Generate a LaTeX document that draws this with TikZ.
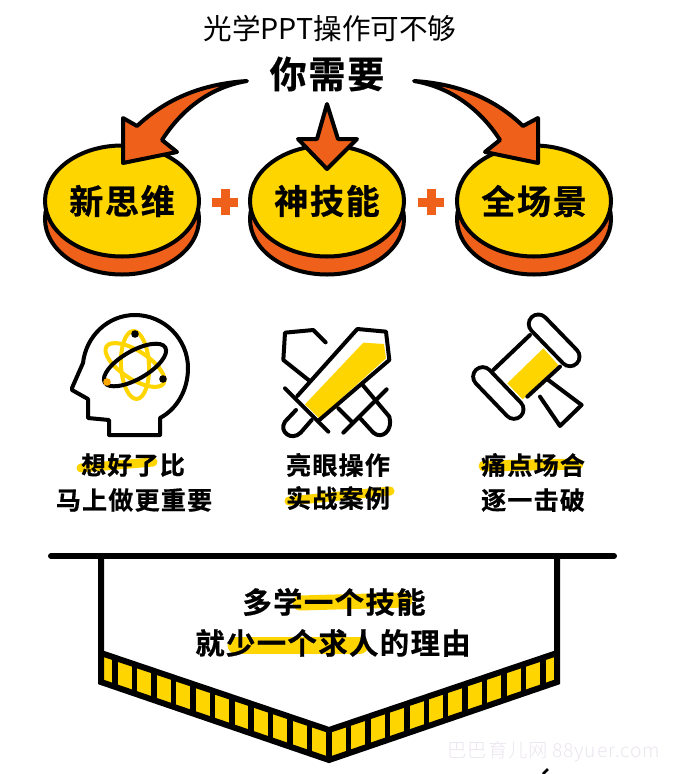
\documentclass[tikz,border=0pt]{standalone}
\usepackage{fontspec}
\usetikzlibrary{shapes.geometric}
\setmainfont{Noto Sans CJK SC}
\newfontfamily\cjkthin[LetterSpace=0]{Noto Sans CJK SC}
\newfontfamily\cjkbold[LetterSpace=5,FakeBold=0.7]{Noto Sans CJK SC Bold}
\newfontfamily\cjkmark[LetterSpace=4]{Noto Sans CJK SC Light}
\definecolor{gold}{HTML}{FFD500}
\definecolor{burnt}{HTML}{EF611A}
\definecolor{faint}{HTML}{EBE5EE}
\tikzset{
  disc/.style={ellipse,draw=black,line width=4pt,fill=gold,minimum width=154pt,minimum height=111pt,inner sep=0pt,font=\cjkbold\fontsize{34}{34}\selectfont},
  discbase/.style={disc,fill=burnt},
  bigarrow/.style={draw=black,fill=burnt,line width=4pt,line join=round},
  plusbar/.style={draw=burnt,line width=9pt},
  icon/.style={line width=4pt,line cap=round,line join=round},
  brush/.style={draw=gold,line cap=round},
  caption/.style={font=\cjkbold\fontsize{25}{25}\selectfont,inner sep=0pt},
  slogan/.style={font=\cjkbold\fontsize{29.3}{29.3}\selectfont,inner sep=0pt},
}
\begin{document}
\begin{tikzpicture}[x=1pt,y=-1pt]
\useasboundingbox (0,0) rectangle (673,774);
% header
\node[font=\cjkthin\fontsize{28.6}{28.6}\selectfont,inner sep=0pt] (title) at (330,29) {光学PPT操作可不够};
\node[font=\cjkbold\fontsize{37}{37}\selectfont,inner sep=0pt] (need) at (327,74) {你需要};
% discs
\foreach \cx/\name/\word in {122/xin/新思维,327/shen/神技能,534/quan/全场景}{
  \node[discbase] (\name base) at (\cx,219) {};
  \node[disc] (\name) at (\cx,201) {\word};
}
\foreach \cx in {225,431}{
  \draw[plusbar] (\cx-13,202) -- (\cx+13,202);
  \draw[plusbar] (\cx,189) -- (\cx,215);
}
% arrows
\draw[bigarrow] (247,81) .. controls (200,84) and (165,100) .. (137,126) -- (123,118) -- (123,163) -- (177,152) -- (162,140) .. controls (178,115) and (205,88) .. (247,81) -- cycle;
\draw[bigarrow] (414,81) .. controls (461,84) and (496,100) .. (523,126) -- (538,118) -- (538,163) -- (485,152) -- (500,140) .. controls (484,115) and (456,88) .. (414,81) -- cycle;
\draw[bigarrow] (327,104) -- (338,139) -- (357,139) -- (327,169) -- (298,139) -- (317,139) -- cycle;
% head
\draw[icon] (160,418) .. controls (177,409) and (188,390) .. (188,368) .. controls (188,339) and (164,315) .. (135,315) .. controls (108,315) and (86,336) .. (83,363) -- (79,372) -- (72,388) -- (72,390) -- (88,399) -- (88,418) -- (109,420) -- (109,435) -- (160,435) -- cycle;
\draw[gold,line width=4pt] (135,365) circle[x radius=34pt,y radius=14pt,rotate=-33];
\draw[gold,line width=4pt] (135,365) circle[x radius=34pt,y radius=14pt,rotate=-87];
\draw[black,line width=4pt] (135,365) circle[x radius=35pt,y radius=14pt,rotate=30];
\fill (135,334) circle[radius=3.8pt];
\fill (163,379) circle[radius=3.8pt];
\fill[orange!70!yellow] (107,382) circle[radius=3.8pt];
% swords
\begin{scope}[shift={(260,310)},x=0.3333pt,y=-0.3333pt]
\fill[gold] (310,98) -- (372,102) -- (378,145) -- (178,325) -- (135,283) -- cycle;
\draw[icon] (197,97) -- (160,60) -- (75,68) -- (70,150) -- (148,212);
\draw[icon] (308,225) -- (388,320) .. controls (400,362) and (365,390) .. (340,368) -- (298,322);
\draw[icon] (235,295) -- (278,338);
\draw[icon] (380,238) -- (250,368);
\draw[icon] (112,258) -- (292,57) -- (378,65) -- (388,150) -- (178,330);
\draw[icon] (75,235) -- (205,365);
\draw[icon] (108,300) -- (75,335) .. controls (55,365) and (95,395) .. (122,368) -- (155,330);
\end{scope}
% gavel
\begin{scope}[shift={(450,300)},x=0.3333pt,y=-0.3333pt]
\fill[gold] (280,145) -- (325,195) -- (218,298) -- (172,250) -- cycle;
\draw[icon] (240,105) -- (130,210);
\draw[icon] (330,200) -- (232,290);
\draw[icon] (295,240) -- (395,315) -- (330,378) -- (270,290);
\draw[line cap=round,line width=4pt,double=white,double distance=15pt] (265,72) -- (360,170);
\draw[line cap=round,line width=4pt,double=white,double distance=15pt] (98,230) -- (192,328);
\end{scope}
% captions
\draw[brush,line width=9pt] (81,468) -- (153,462);
\draw[brush,line width=9pt] (289,501) -- (390,491);
\draw[brush,line width=11pt] (484,466) -- (578,464);
\node[caption] (xiang) at (133,465) {想好了比};
\node[caption] (mashang) at (134,500) {马上做更重要};
\node[caption] (liang) at (338,465) {亮眼操作};
\node[caption] (shi) at (338,498) {实战案例};
\node[caption] (tong) at (533,465) {痛点场合};
\node[caption] (zhu) at (533,500) {逐一击破};
% banner
\fill[gold] (101,653) -- (329,730) -- (557,653) -- (557,682) -- (329,760) -- (101,682) -- cycle;
\foreach \k in {1,...,11}{
  \draw[line width=5.5pt] ({329-19.45*\k},{730-6.75*\k}) -- ++(0,30);
  \draw[line width=5.5pt] ({329+19.45*\k},{730-6.75*\k}) -- ++(0,30);
}
\draw[line width=5.5pt] (329,730) -- (329,760);
\draw[line width=6pt,line join=miter] (101,556) -- (101,682) -- (329,760) -- (557,682) -- (557,556);
\draw[line width=6pt,line join=miter] (101,653) -- (329,730) -- (557,653);
\draw[line width=6pt,line cap=round] (51,556) -- (614,556);
\draw[brush,line width=15pt] (300,603) -- (405,600);
\draw[brush,line width=17pt] (236,645) -- (360,645);
\node[slogan] (duo) at (334,602) {多学一个技能};
\node[slogan] (jiu) at (333,643) {就少一个求人的理由};
% watermark
\node[text=faint,font=\cjkmark\fontsize{19.3}{19.3}\selectfont,inner sep=0pt] (mark) at (554,752) {巴巴育儿网 88yuer.com};
\draw[line width=2.5pt] (543,774) -- (548,769);
\end{tikzpicture}
\end{document}
